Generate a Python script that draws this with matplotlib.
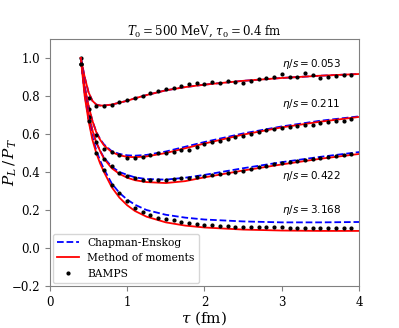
import numpy as np
import matplotlib
matplotlib.use("Agg")
import matplotlib.pyplot as plt

plt.rcParams['font.family'] = 'serif'
plt.rcParams['font.serif'] = ['DejaVu Serif']
plt.rcParams['mathtext.fontset'] = 'dejavuserif'

# smooth curves (Chapman-Enskog and method of moments)
tau_c = [0.4, 0.45, 0.5, 0.55, 0.6, 0.65, 0.7, 0.8, 0.9, 1.0, 1.1, 1.25, 1.5, 1.75, 2.0, 2.5, 3.0, 3.5, 4.0]

mom_053 = [1.0, 0.90, 0.82, 0.775, 0.755, 0.75, 0.75, 0.755, 0.765, 0.775, 0.788, 0.805, 0.83, 0.847, 0.86, 0.88, 0.895, 0.907, 0.916]
ce_053 = mom_053
mom_211 = [1.0, 0.85, 0.75, 0.67, 0.61, 0.57, 0.54, 0.505, 0.488, 0.48, 0.478, 0.482, 0.50, 0.525, 0.55, 0.597, 0.635, 0.665, 0.69]
ce_211 = [1.0, 0.85, 0.75, 0.67, 0.612, 0.573, 0.545, 0.51, 0.495, 0.488, 0.486, 0.49, 0.508, 0.533, 0.558, 0.603, 0.64, 0.67, 0.693]
mom_422 = [1.0, 0.83, 0.71, 0.62, 0.555, 0.51, 0.47, 0.42, 0.39, 0.37, 0.357, 0.347, 0.342, 0.352, 0.372, 0.408, 0.44, 0.47, 0.495]
ce_422 = [1.0, 0.83, 0.71, 0.62, 0.557, 0.512, 0.475, 0.428, 0.40, 0.385, 0.372, 0.363, 0.36, 0.37, 0.385, 0.42, 0.452, 0.48, 0.505]
mom_3168 = [1.0, 0.80, 0.67, 0.57, 0.50, 0.445, 0.40, 0.32, 0.265, 0.225, 0.195, 0.165, 0.135, 0.118, 0.108, 0.097, 0.092, 0.09, 0.09]
ce_3168 = [1.0, 0.81, 0.68, 0.585, 0.515, 0.46, 0.415, 0.34, 0.29, 0.255, 0.228, 0.20, 0.175, 0.16, 0.15, 0.14, 0.135, 0.135, 0.137]

# BAMPS points
tau_b = [0.4, 0.5, 0.6, 0.7, 0.8, 0.9, 1.0, 1.1, 1.2, 1.3, 1.4, 1.5, 1.6, 1.7, 1.8, 1.9, 2.0, 2.1,
         2.2, 2.3, 2.4, 2.5, 2.6, 2.7, 2.8, 2.9, 3.0, 3.1, 3.2, 3.3, 3.4, 3.5, 3.6, 3.7, 3.8, 3.9]
b_053 = [0.97, 0.79, 0.75, 0.745, 0.755, 0.77, 0.78, 0.79, 0.80, 0.814, 0.826, 0.835, 0.84, 0.853, 0.863, 0.867, 0.863, 0.874,
         0.867, 0.879, 0.872, 0.867, 0.88, 0.888, 0.896, 0.90, 0.916, 0.90, 0.90, 0.923, 0.91, 0.895, 0.90, 0.905, 0.91, 0.91]
b_211 = [1.0, 0.73, 0.595, 0.52, 0.505, 0.49, 0.475, 0.475, 0.48, 0.49, 0.50, 0.50, 0.507, 0.514, 0.517, 0.53, 0.547, 0.558,
         0.565, 0.574, 0.583, 0.59, 0.60, 0.612, 0.62, 0.625, 0.63, 0.635, 0.64, 0.645, 0.65, 0.66, 0.665, 0.667, 0.67, 0.68]
b_422 = [0.97, 0.69, 0.56, 0.47, 0.43, 0.396, 0.379, 0.367, 0.36, 0.356, 0.356, 0.36, 0.363, 0.366, 0.37, 0.375, 0.38, 0.385,
         0.39, 0.396, 0.402, 0.408, 0.415, 0.425, 0.432, 0.44, 0.445, 0.452, 0.458, 0.462, 0.468, 0.475, 0.48, 0.486, 0.49, 0.495]
b_3168 = [0.97, 0.67, 0.50, 0.41, 0.33, 0.288, 0.245, 0.21, 0.19, 0.175, 0.16, 0.152, 0.145, 0.137, 0.132, 0.127, 0.123, 0.12,
          0.117, 0.115, 0.113, 0.112, 0.111, 0.11, 0.109, 0.108, 0.108, 0.107, 0.107, 0.106, 0.106, 0.105, 0.105, 0.105, 0.105, 0.105]

labels = [r'$\eta/s = 0.053$', r'$\eta/s = 0.211$', r'$\eta/s = 0.422$', r'$\eta/s = 3.168$']
label_y = [0.97, 0.758, 0.379, 0.2]

fig = plt.figure(figsize=(3.99, 3.28), dpi=100)
ax = fig.add_axes([0.125, 0.128, 0.775, 0.753])

ce_all = [ce_053, ce_211, ce_422, ce_3168]
mom_all = [mom_053, mom_211, mom_422, mom_3168]
b_all = [b_053, b_211, b_422, b_3168]

for i in range(4):
    ax.plot(tau_c, ce_all[i], '--', color='blue', lw=1.3, label='Chapman-Enskog' if i == 0 else None)
    ax.plot(tau_c, mom_all[i], '-', color='red', lw=1.3, label='Method of moments' if i == 0 else None)
    ax.plot(tau_b, b_all[i], 'o', color='black', ms=2, label='BAMPS' if i == 0 else None)
    ax.text(3.0, label_y[i], labels[i], fontsize=7.5, va='center', ha='left', math_fontfamily='dejavusans')

ax.set_xlim(0, 4)
ax.set_ylim(-0.2, 1.1)
ax.set_xticks([0, 1, 2, 3, 4])
ax.set_yticks([-0.2, 0.0, 0.2, 0.4, 0.6, 0.8, 1.0])
ax.tick_params(labelsize=8.5, color='gray')
for s in ax.spines.values():
    s.set_color('gray')

ax.set_xlabel(r'$\tau$ (fm)', fontsize=11)
ax.set_ylabel(r'$P_L\,/\,P_T$', fontsize=11)
ax.xaxis.set_label_coords(0.5, -0.095)
ax.yaxis.set_label_coords(-0.1, 0.5)
ax.set_title(r'$T_0 = 500$ MeV, $\tau_0 = 0.4$ fm', fontsize=8.5, pad=3)
ax.legend(loc='lower left', fontsize=7.7, handlelength=2.0, borderaxespad=0.3)

fig.savefig('out.png', dpi=100)
